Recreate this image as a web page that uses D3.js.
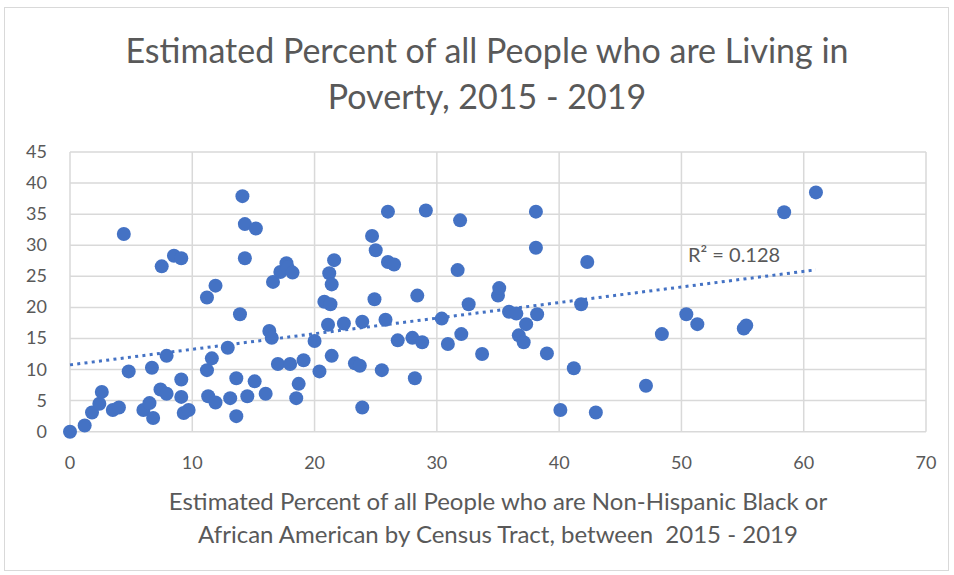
<!DOCTYPE html>
<html>
  <head>
    <meta charset="utf-8">
    <title>Estimated Percent of all People who are Living in Poverty</title>
    <style>
      html, body { margin: 0; padding: 0; background: #fff; }
      svg text { font-family: Lato, "Open Sans", sans-serif; fill: #595959; }
    </style>
  </head>
  <body>
    <svg width="954" height="575"></svg>
    <script src="https://d3js.org/d3.v7.min.js"></script>
    <script>
      // percent Non-Hispanic Black (x) and percent in poverty (y), one pair per census tract
      var pctBlack = [
        0, 1.2, 1.8, 2.4, 2.6, 3.5, 4.0, 4.4, 4.8, 6.0,
        6.5, 6.7, 6.8, 7.4, 7.5, 7.9, 7.9, 8.5, 9.1, 9.1,
        9.1, 9.3, 9.7, 11.2, 11.2, 11.3, 11.6, 11.9, 11.9, 12.9,
        13.1, 13.6, 13.6, 13.9, 14.1, 14.3, 14.3, 14.5, 15.1, 15.2,
        16.0, 16.3, 16.5, 16.6, 17.0, 17.2, 17.7, 17.8, 18.0, 18.2,
        18.5, 18.7, 19.1, 20.0, 20.4, 20.8, 21.1, 21.2, 21.3, 21.4,
        21.4, 21.6, 22.4, 23.3, 23.7, 23.9, 23.9, 24.7, 24.9, 25.0,
        25.5, 25.8, 26.0, 26.0, 26.5, 26.8, 28.0, 28.2, 28.4, 28.8,
        29.1, 30.4, 30.9, 31.7, 31.9, 32.0, 32.6, 33.7, 35.0, 35.1,
        35.9, 36.5, 36.7, 37.1, 37.3, 38.1, 38.1, 38.2, 39.0, 40.1,
        41.2, 41.8, 42.3, 43.0, 47.1, 48.4, 50.4, 51.3, 55.1, 55.3,
        58.4, 61.0
      ];
      var pctPoverty = [
        0, 1.0, 3.1, 4.5, 6.4, 3.5, 3.9, 31.8, 9.7, 3.5,
        4.6, 10.3, 2.2, 6.8, 26.6, 6.1, 12.2, 28.3, 27.9, 8.4,
        5.6, 3.0, 3.5, 21.6, 9.9, 5.7, 11.8, 4.7, 23.5, 13.5,
        5.4, 8.6, 2.5, 18.9, 37.9, 33.4, 27.9, 5.7, 8.1, 32.7,
        6.1, 16.2, 15.1, 24.1, 10.9, 25.7, 27.1, 26.4, 10.9, 25.6,
        5.4, 7.7, 11.5, 14.6, 9.7, 20.9, 17.2, 25.5, 20.5, 23.7,
        12.2, 27.6, 17.4, 11.0, 10.6, 17.7, 3.9, 31.5, 21.3, 29.2,
        9.9, 18.0, 35.4, 27.3, 26.9, 14.7, 15.1, 8.6, 21.9, 14.4,
        35.6, 18.2, 14.1, 26.0, 34.0, 15.7, 20.5, 12.5, 21.9, 23.1,
        19.3, 19.0, 15.5, 14.4, 17.3, 35.4, 29.6, 18.9, 12.6, 3.5,
        10.2, 20.5, 27.3, 3.1, 7.4, 15.7, 18.9, 17.3, 16.6, 17.1,
        35.3, 38.5
      ];
      var xTicks = [0, 10, 20, 30, 40, 50, 60, 70];
      var yTicks = [0, 5, 10, 15, 20, 25, 30, 35, 40, 45];
      var titleLines = ['Estimated Percent of all People who are Living in', 'Poverty, 2015 - 2019'];
      var xTitleLines = ['Estimated Percent of all People who are Non-Hispanic Black or',
                         'African American by Census Tract, between  2015 - 2019'];
      var rSquaredLabel = 'R\u00b2 = 0.128';

      var svg = d3.select('svg');
      var plotLeft = 70, plotRight = 926, plotTop = 152, plotBottom = 431.7;
      var xScale = d3.scaleLinear().domain([0, 70]).range([plotLeft, plotRight]);
      var yScale = d3.scaleLinear().domain([0, 45]).range([plotBottom, plotTop]);

      // chart border
      svg.append('rect')
        .attr('x', 4.5).attr('y', 7.5)
        .attr('width', 944).attr('height', 563)
        .attr('fill', 'none').attr('stroke', '#d9d9d9').attr('stroke-width', 1);

      // gridlines
      svg.append('g').selectAll('line').data(yTicks).enter().append('line')
        .attr('x1', plotLeft).attr('x2', plotRight)
        .attr('y1', function(d) { return yScale(d); })
        .attr('y2', function(d) { return yScale(d); })
        .attr('stroke', '#d9d9d9').attr('stroke-width', 1.5);
      svg.append('g').selectAll('line').data(xTicks).enter().append('line')
        .attr('y1', plotTop).attr('y2', plotBottom)
        .attr('x1', function(d) { return xScale(d); })
        .attr('x2', function(d) { return xScale(d); })
        .attr('stroke', '#d9d9d9').attr('stroke-width', 1.5);

      // tick labels
      svg.append('g').selectAll('text').data(yTicks).enter().append('text')
        .attr('x', 47)
        .attr('y', function(d) { return yScale(d) + 6; })
        .attr('text-anchor', 'end')
        .style('font-size', '18px')
        .text(function(d) { return d; });
      svg.append('g').selectAll('text').data(xTicks).enter().append('text')
        .attr('x', function(d) { return xScale(d); })
        .attr('y', 469)
        .attr('text-anchor', 'middle')
        .style('font-size', '18px')
        .text(function(d) { return d; });

      // linear trendline from least squares over the points
      var mx = d3.mean(pctBlack), my = d3.mean(pctPoverty);
      var sxy = 0, sxx = 0;
      pctBlack.forEach(function(x, i) {
        sxy += (x - mx) * (pctPoverty[i] - my);
        sxx += (x - mx) * (x - mx);
      });
      var slope = sxy / sxx, intercept = my - slope * mx;
      var xMax = d3.max(pctBlack);
      svg.append('line')
        .attr('x1', xScale(0)).attr('y1', yScale(intercept))
        .attr('x2', xScale(xMax)).attr('y2', yScale(intercept + slope * xMax))
        .attr('stroke', '#4472c4').attr('stroke-width', 3)
        .attr('stroke-dasharray', '3,4.3');

      // points
      svg.append('g').selectAll('circle').data(pctBlack).enter().append('circle')
        .attr('cx', function(d) { return xScale(d); })
        .attr('cy', function(d, i) { return yScale(pctPoverty[i]); })
        .attr('r', 7)
        .attr('fill', '#4472c4');

      svg.append('text')
        .attr('x', 688).attr('y', 262)
        .style('font-size', '20px')
        .text(rSquaredLabel);

      // titles
      svg.append('g').selectAll('text').data(titleLines).enter().append('text')
        .attr('x', 487)
        .attr('y', function(d, i) { return 63 + i * 46; })
        .attr('text-anchor', 'middle')
        .style('font-size', '34px')
        .text(function(d) { return d; });
      svg.append('g').selectAll('text').data(xTitleLines).enter().append('text')
        .attr('x', 498)
        .attr('y', function(d, i) { return 510 + i * 33; })
        .attr('text-anchor', 'middle')
        .style('font-size', '24px')
        .style('white-space', 'pre')
        .text(function(d) { return d; });
    </script>
  </body>
</html>
